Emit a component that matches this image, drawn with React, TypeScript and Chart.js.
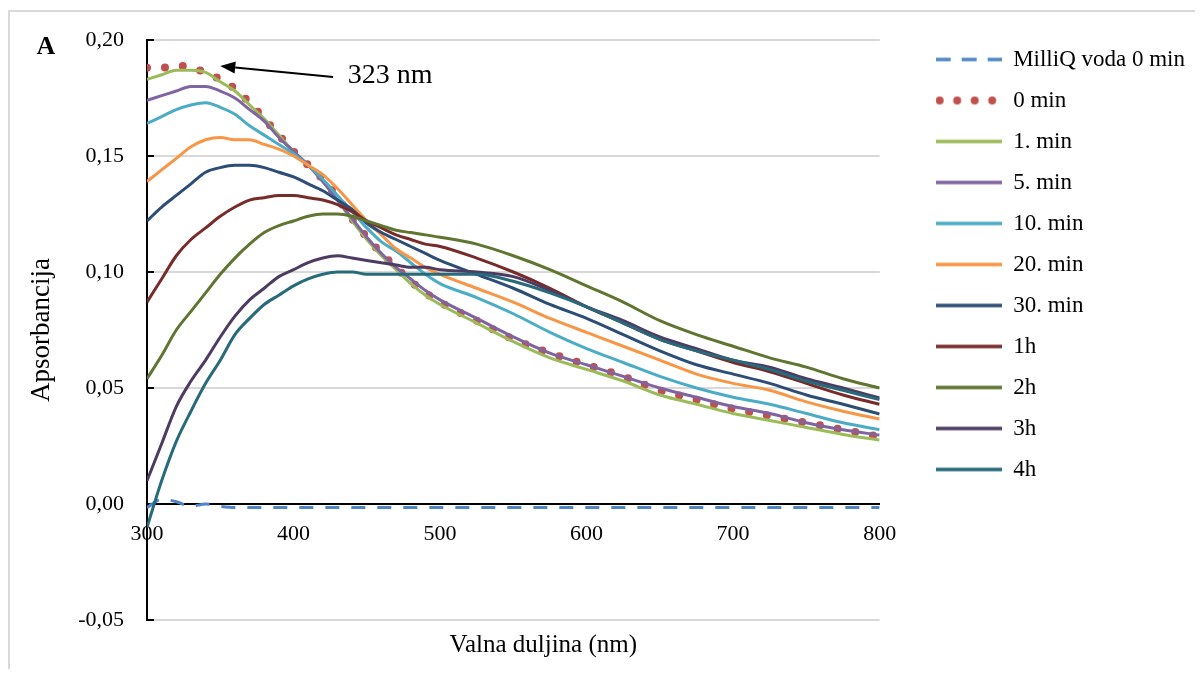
import React, { useEffect, useRef } from 'react';
import { Chart, registerables } from 'chart.js';

Chart.register(...registerables);

const FONT = '"Liberation Serif", "Times New Roman", serif';
Chart.defaults.font.family = FONT;

// Wavelength grid (nm)
const wavelengths = [
  300, 310, 320, 330, 340, 350, 360, 370, 380, 390, 400, 410, 420, 430, 440, 450, 460, 470, 480, 490, 500,
  525, 550, 575, 600, 625, 650, 675, 700, 725, 750, 775, 800,
];

// Absorbance series
const milliQ = [
  -0.0015, 0.002, 0.001, -0.001, 0.0, -0.001, -0.0015, -0.0015, -0.0015, -0.0015, -0.0015, -0.0015, -0.0015, -0.0015,
  -0.0015, -0.0015, -0.0015, -0.0015, -0.0015, -0.0015, -0.0015, -0.0015, -0.0015, -0.0015, -0.0015, -0.0015, -0.0015,
  -0.0015, -0.0015, -0.0015, -0.0015, -0.0015, -0.0015,
];
const min0 = [
  0.188, 0.188, 0.189, 0.188, 0.186, 0.183, 0.179, 0.173, 0.166, 0.159, 0.152, 0.146, 0.14, 0.132, 0.123, 0.115, 0.108,
  0.102, 0.096, 0.091, 0.087, 0.079, 0.071, 0.065, 0.06, 0.055, 0.049, 0.045, 0.041, 0.038, 0.035, 0.032, 0.029,
];
const min1 = [
  0.183, 0.185, 0.187, 0.187, 0.186, 0.182, 0.178, 0.172, 0.166, 0.159, 0.152, 0.146, 0.139, 0.131, 0.122, 0.114, 0.107,
  0.101, 0.095, 0.09, 0.086, 0.078, 0.07, 0.063, 0.058, 0.053, 0.047, 0.043, 0.039, 0.036, 0.033, 0.03, 0.0276,
];
const min5 = [
  0.174, 0.176, 0.178, 0.18, 0.18, 0.178, 0.175, 0.17, 0.165, 0.158, 0.152, 0.146, 0.139, 0.131, 0.123, 0.115, 0.108,
  0.102, 0.097, 0.092, 0.088, 0.08, 0.072, 0.065, 0.06, 0.055, 0.05, 0.046, 0.042, 0.039, 0.035, 0.032, 0.0297,
];
const min10 = [
  0.164, 0.167, 0.17, 0.172, 0.173, 0.171, 0.168, 0.163, 0.159, 0.155, 0.151, 0.146, 0.14, 0.133, 0.126, 0.119, 0.113,
  0.109, 0.104, 0.099, 0.095, 0.089, 0.082, 0.074, 0.067, 0.061, 0.055, 0.05, 0.046, 0.043, 0.039, 0.035, 0.032,
];
const min20 = [
  0.139, 0.144, 0.149, 0.154, 0.157, 0.158, 0.157, 0.157, 0.155, 0.153, 0.15, 0.146, 0.142, 0.136, 0.129, 0.122, 0.116,
  0.11, 0.106, 0.102, 0.099, 0.093, 0.087, 0.08, 0.074, 0.068, 0.062, 0.056, 0.052, 0.049, 0.044, 0.04, 0.0366,
];
const min30 = [
  0.122, 0.128, 0.133, 0.138, 0.143, 0.145, 0.146, 0.146, 0.145, 0.143, 0.141, 0.138, 0.135, 0.131, 0.127, 0.121, 0.117,
  0.114, 0.111, 0.108, 0.105, 0.099, 0.093, 0.086, 0.08, 0.073, 0.066, 0.06, 0.056, 0.052, 0.047, 0.043, 0.0388,
];
const h1 = [
  0.087, 0.097, 0.107, 0.114, 0.119, 0.124, 0.128, 0.131, 0.132, 0.133, 0.133, 0.132, 0.131, 0.129, 0.126, 0.122, 0.119,
  0.116, 0.114, 0.112, 0.111, 0.106, 0.1, 0.093, 0.085, 0.078, 0.071, 0.066, 0.061, 0.057, 0.052, 0.047, 0.043,
];
const h2 = [
  0.054, 0.064, 0.075, 0.083, 0.091, 0.099, 0.106, 0.112, 0.117, 0.12, 0.122, 0.124, 0.125, 0.125, 0.124, 0.122, 0.12,
  0.118, 0.117, 0.116, 0.115, 0.112, 0.107, 0.101, 0.094, 0.087, 0.079, 0.073, 0.068, 0.063, 0.059, 0.054, 0.05,
];
const h3 = [
  0.01, 0.026, 0.042, 0.053, 0.062, 0.072, 0.081, 0.088, 0.093, 0.098, 0.101, 0.104, 0.106, 0.107, 0.106, 0.105, 0.104,
  0.103, 0.102, 0.102, 0.101, 0.1, 0.098, 0.092, 0.085, 0.079, 0.072, 0.067, 0.062, 0.059, 0.054, 0.05, 0.0457,
];
const h4 = [
  -0.01, 0.01, 0.027, 0.04, 0.052, 0.062, 0.073, 0.08, 0.086, 0.09, 0.094, 0.097, 0.099, 0.1, 0.1, 0.099, 0.099, 0.099,
  0.099, 0.099, 0.099, 0.099, 0.096, 0.091, 0.085, 0.078, 0.071, 0.066, 0.062, 0.058, 0.053, 0.049, 0.045,
];

const seriesNames = ['MilliQ voda 0 min', '0 min', '1. min', '5. min', '10. min', '20. min', '30. min', '1h', '2h', '3h', '4h'];
const seriesValues = [milliQ, min0, min1, min5, min10, min20, min30, h1, h2, h3, h4];
const seriesColors = [
  '#4f86c6', '#c0504d', '#9bbb59', '#8064a2', '#4bacc6', '#f79646', '#2c4d75', '#772c2a', '#5f7530', '#4d3b62', '#276a7c',
];

// Axis settings
const xMin = 300;
const xMax = 800;
const xStep = 100;
const yMin = -0.05;
const yMax = 0.2;
const yStep = 0.05;

// Annotation ("323 nm" arrow) in data coordinates
const arrowTip = [350, 0.1888];
const arrowTail = [427, 0.184];
const arrowLabelPos = [437, 0.1845];
const arrowLabel = '323 nm';

const SAMPLE_W = 66;

const fmt = (v: number) => (Math.abs(v) < 1e-9 ? 0 : v).toFixed(2).replace('.', ',');

function styleFor(i: number) {
  if (i === 0) return { width: 3, dash: [14, 12], cap: 'butt' as CanvasLineCap };
  if (i === 1) return { width: 8, dash: [0, 18], cap: 'round' as CanvasLineCap };
  return { width: 3, dash: [] as number[], cap: 'butt' as CanvasLineCap };
}

function makeSample(i: number) {
  const c = document.createElement('canvas');
  c.width = SAMPLE_W;
  c.height = 12;
  const g = c.getContext('2d')!;
  const st = styleFor(i);
  g.strokeStyle = seriesColors[i];
  g.lineWidth = i === 1 ? 8 : 3.5;
  g.lineCap = st.cap;
  if (i === 0) g.setLineDash([15, 11]);
  else if (i === 1) g.setLineDash([0, 17.5]);
  g.beginPath();
  const inset = i === 1 ? 4 : 0;
  g.moveTo(inset, 6);
  g.lineTo(SAMPLE_W - inset, 6);
  g.stroke();
  return c;
}

const decorPlugin = {
  id: 'decor',
  beforeDatasetsDraw(chart: any) {
    const { ctx, chartArea, scales } = chart;
    const y = scales.y;
    ctx.save();
    ctx.strokeStyle = '#000';
    ctx.lineWidth = 2;
    y.ticks.forEach((t: any) => {
      const py = Math.round(y.getPixelForValue(t.value));
      ctx.beginPath();
      ctx.moveTo(chartArea.left, py);
      ctx.lineTo(chartArea.left + 7, py);
      ctx.stroke();
    });
    ctx.restore();
  },
  afterDraw(chart: any) {
    const { ctx, chartArea, scales } = chart;
    const x = scales.x;
    const y = scales.y;
    ctx.save();
    ctx.fillStyle = '#000';
    ctx.textBaseline = 'middle';

    // Panel letter
    ctx.textAlign = 'center';
    ctx.font = `bold 26px ${FONT}`;
    ctx.fillText('A', 36, 35);

    // X axis title
    ctx.font = `25px ${FONT}`;
    ctx.fillText('Valna duljina (nm)', (chartArea.left + chartArea.right) / 2 + 30, chartArea.bottom + 25);

    // Arrow
    const tx = x.getPixelForValue(arrowTip[0]);
    const ty = y.getPixelForValue(arrowTip[1]);
    const sx = x.getPixelForValue(arrowTail[0]);
    const sy = y.getPixelForValue(arrowTail[1]);
    const ang = Math.atan2(ty - sy, tx - sx);
    const headLen = 15;
    const headHalf = 6;
    const bx = tx - headLen * Math.cos(ang);
    const by = ty - headLen * Math.sin(ang);
    ctx.strokeStyle = '#000';
    ctx.lineWidth = 2;
    ctx.beginPath();
    ctx.moveTo(sx, sy);
    ctx.lineTo(bx, by);
    ctx.stroke();
    ctx.beginPath();
    ctx.moveTo(tx, ty);
    ctx.lineTo(bx + headHalf * Math.sin(ang), by - headHalf * Math.cos(ang));
    ctx.lineTo(bx - headHalf * Math.sin(ang), by + headHalf * Math.cos(ang));
    ctx.closePath();
    ctx.fill();

    // Label
    ctx.textAlign = 'left';
    ctx.font = `28px ${FONT}`;
    ctx.fillText(arrowLabel, x.getPixelForValue(arrowLabelPos[0]), y.getPixelForValue(arrowLabelPos[1]));
    ctx.restore();
  },
};

export default function App() {
  const ref = useRef<HTMLCanvasElement>(null);

  useEffect(() => {
    if (!ref.current) return;
    const n = seriesNames.length;
    const samples = seriesNames.map((_, i) => makeSample(i));
    const datasets = seriesNames.map((name, i) => {
      const st = styleFor(i);
      return {
        label: name,
        data: wavelengths.map((w, k) => ({ x: w, y: seriesValues[i][k] })),
        borderColor: seriesColors[i],
        backgroundColor: seriesColors[i],
        borderWidth: st.width,
        borderDash: st.dash,
        borderCapStyle: st.cap,
        pointRadius: 0,
        pointHoverRadius: 0,
        fill: false,
        cubicInterpolationMode: 'monotone',
        order: n - i,
      } as any;
    });

    const chart = new Chart(ref.current, {
      type: 'line',
      data: { datasets },
      plugins: [decorPlugin],
      options: {
        responsive: false,
        animation: false,
        devicePixelRatio: 1,
        events: [],
        layout: { padding: { top: 18, bottom: 57, left: 0, right: 8 } },
        plugins: {
          legend: {
            position: 'right',
            align: 'start',
            maxWidth: 400,
            labels: {
              usePointStyle: true,
              pointStyleWidth: SAMPLE_W,
              padding: 18,
              color: '#000',
              font: { size: 23, family: FONT },
              generateLabels: (ch: any) => {
                const items = (Chart.defaults as any).plugins.legend.labels.generateLabels(ch);
                items.forEach((it: any) => {
                  it.pointStyle = samples[it.datasetIndex];
                });
                return items;
              },
              sort: (a: any, b: any) => a.datasetIndex - b.datasetIndex,
            },
          },
          tooltip: { enabled: false },
        },
        scales: {
          x: {
            type: 'linear',
            min: xMin,
            max: xMax,
            position: { y: 0 } as any,
            grid: { display: false, drawTicks: false },
            border: { display: true, color: '#000', width: 2 },
            ticks: { stepSize: xStep, color: '#000', font: { size: 22 }, padding: 17, maxRotation: 0 },
          },
          y: {
            type: 'linear',
            min: yMin,
            max: yMax,
            position: 'left',
            grid: {
              color: '#d9d9d9',
              lineWidth: 2,
              drawTicks: true,
              tickLength: 20,
              tickColor: 'rgba(0,0,0,0)',
            },
            border: { display: true, color: '#000', width: 2 },
            ticks: {
              stepSize: yStep,
              color: '#000',
              font: { size: 22 },
              padding: 3,
              callback: (v: any) => fmt(Number(v)),
            },
            title: {
              display: true,
              text: 'Apsorbancija',
              color: '#000',
              font: { size: 27 },
              padding: { top: 16, bottom: 0 },
            },
            afterFit: (s: any) => {
              s.width = 137;
            },
          },
          xTop: {
            type: 'linear',
            axis: 'x',
            position: 'top',
            grid: { display: false, drawTicks: false },
            border: { display: false },
            ticks: { display: false },
            afterFit: (s: any) => {
              s.height = 10;
            },
          },
          yRight: {
            type: 'linear',
            axis: 'y',
            position: 'right',
            grid: { display: false, drawTicks: false },
            border: { display: false },
            ticks: { display: false },
            afterFit: (s: any) => {
              s.width = 38;
            },
          },
        } as any,
      },
    } as any);

    return () => chart.destroy();
  }, []);

  return (
    <div
      style={{
        position: 'relative',
        top: 2,
        width: 1195,
        height: 661,
        borderTop: '2px solid #d9d9d9',
        borderLeft: '2px solid #d9d9d9',
        boxSizing: 'border-box',
      }}
    >
      <canvas
        ref={ref}
        width={1193}
        height={665}
        style={{ position: 'absolute', left: 0, top: 0, width: 1193, height: 665 }}
      />
    </div>
  );
}
